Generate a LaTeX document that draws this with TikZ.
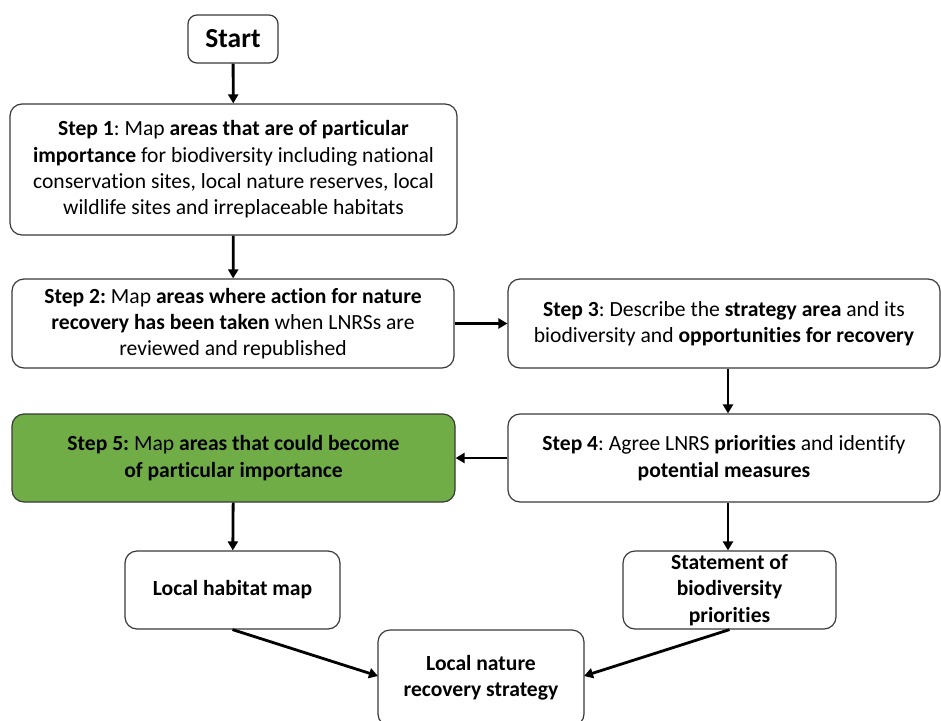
\documentclass[tikz,border=0pt]{standalone}
\usepackage{fontspec}
\setmainfont{Carlito}[RawFeature=-liga]
\usetikzlibrary{arrows.meta}
\definecolor{stepgreen}{HTML}{70AD47}
\definecolor{boxline}{HTML}{3A3A3A}
\frenchspacing
\tikzset{
  box/.style={draw=boxline, line width=1.2pt, rounded corners=12pt, fill=white, align=center,
    font=\fontsize{21.6}{26.3}\selectfont, inner sep=0pt},
  conn/.style={line width=2.8pt, -{Triangle[length=9pt,width=10pt]}},
}
\begin{document}
\begin{tikzpicture}[x=1pt,y=-1pt]
\useasboundingbox (0,0) rectangle (941,720);
\fill[white] (0,0) rectangle (941,720);
\node[box, minimum width=90pt, minimum height=48pt, font=\fontsize{27.5}{30}\selectfont\bfseries, rounded corners=9pt] (start) at (233,39) {Start};
\node[box, minimum width=447pt, minimum height=131pt] (s1) at (233.5,169.5) {\textbf{Step 1}: Map \textbf{areas that are of particular}\\ \textbf{importance} for biodiversity including national\\ conservation sites, local nature reserves, local\\ wildlife sites and irreplaceable habitats};
\node[box, minimum width=442pt, minimum height=89pt] (s2) at (233,323.5) {\textbf{Step 2:} Map \textbf{areas where action for nature}\\ \textbf{recovery has been taken} when LNRSs are\\ reviewed and republished};
\node[box, minimum width=432pt, minimum height=89pt] (s3) at (724,323.5) {\textbf{Step 3}: Describe the \textbf{strategy area} and its\\ biodiversity and \textbf{opportunities for recovery}};
\node[box, minimum width=443pt, minimum height=88pt, fill=stepgreen] (s5) at (233.5,458) {\textbf{Step 5:} Map \textbf{areas that could become}\\ \textbf{of particular importance}};
\node[box, minimum width=432pt, minimum height=88pt] (s4) at (724,458) {\textbf{Step 4}: Agree LNRS \textbf{priorities} and identify\\ \textbf{potential measures}};
\node[box, minimum width=215pt, minimum height=78pt, font=\fontsize{21.6}{26.3}\selectfont\bfseries] (lhm) at (232.5,590) {Local habitat map};
\node[box, minimum width=213pt, minimum height=78pt, font=\fontsize{21.6}{26.3}\selectfont\bfseries] (sob) at (729.5,590) {Statement of\\ biodiversity\\ priorities};
\node[box, minimum width=206pt, minimum height=96pt, font=\fontsize{21.6}{26.3}\selectfont\bfseries] (lnrs) at (481,678) {Local nature\\ recovery strategy};
\coordinate (lnrsL) at (378,676);
\coordinate (lnrsR) at (584,676);
\draw[conn] (start) -- (s1);
\draw[conn] (s1) -- (s2);
\draw[conn] (s2) -- (s3);
\draw[conn] (s3.south -| 728,0) -- (s4.north -| 728,0);
\draw[conn] (s4) -- (s5);
\draw[conn] (s5) -- (lhm);
\draw[conn] (s4.south -| 728,0) -- (sob.north -| 728,0);
\draw[conn] (lhm.south) -- (lnrsL);
\draw[conn] (sob.south) -- (lnrsR);
\end{tikzpicture}
\end{document}
